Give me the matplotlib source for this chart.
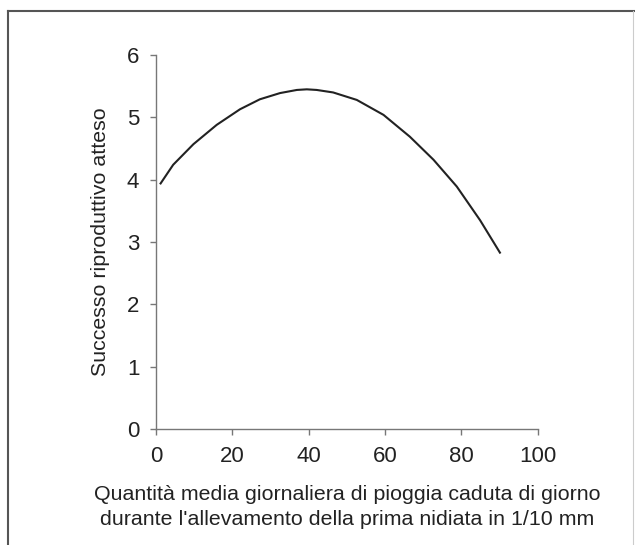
import matplotlib.pyplot as plt
from matplotlib.lines import Line2D

plt.rcParams['font.family'] = ['Liberation Sans', 'DejaVu Sans']

# Pioggia media (1/10 mm) e successo riproduttivo atteso
pioggia = [1.2, 4.5, 9.8, 15.9, 22.0, 27.2, 32.5, 36.9, 39.5, 42.1, 46.4,
           52.6, 59.6, 66.5, 72.7, 78.8, 84.9, 90.1]
successo = [3.94, 4.24, 4.57, 4.88, 5.13, 5.29, 5.39, 5.44, 5.45, 5.44, 5.40,
            5.28, 5.04, 4.69, 4.32, 3.89, 3.35, 2.83]

x_ticks = [0, 20, 40, 60, 80, 100]
y_ticks = [0, 1, 2, 3, 4, 5, 6]

fig = plt.figure(figsize=(6.35, 5.45), dpi=100)
ax = fig.add_axes([0.2457, 0.2128, 0.6011, 0.6862])

ax.plot(pioggia, successo, color='#222222', linewidth=1.5)

ax.set_xlim(0, 100)
ax.set_ylim(0, 6)
ax.set_xticks(x_ticks)
ax.set_yticks(y_ticks)

for side in ['top', 'right']:
    ax.spines[side].set_visible(False)
for side in ['left', 'bottom']:
    ax.spines[side].set_color('#777777')
    ax.spines[side].set_linewidth(1.0)

ax.tick_params(axis='both', colors='#777777', labelcolor='#222222',
               labelsize=16, length=4, width=1.0)
ax.tick_params(axis='x', pad=8)
ax.tick_params(axis='y', pad=8)

ax.set_xlabel("Quantità media giornaliera di pioggia caduta di giorno\n"
              "durante l'allevamento della prima nidiata in 1/10 mm",
              fontsize=15.4, color='#222222', labelpad=13, linespacing=1.45)
ax.set_ylabel('Successo riproduttivo atteso', fontsize=15.4,
              color='#222222', labelpad=12)

# cornice esterna della figura
fig.add_artist(Line2D([0.012, 0.012], [0.0, 0.98], transform=fig.transFigure,
                      color='#555555', linewidth=1.5))
fig.add_artist(Line2D([0.012, 1.0], [0.98, 0.98], transform=fig.transFigure,
                      color='#555555', linewidth=1.5))
fig.add_artist(Line2D([0.997, 0.997], [0.0, 0.98], transform=fig.transFigure,
                      color='#cccccc', linewidth=0.8))

fig.savefig('out.png', dpi=100)
